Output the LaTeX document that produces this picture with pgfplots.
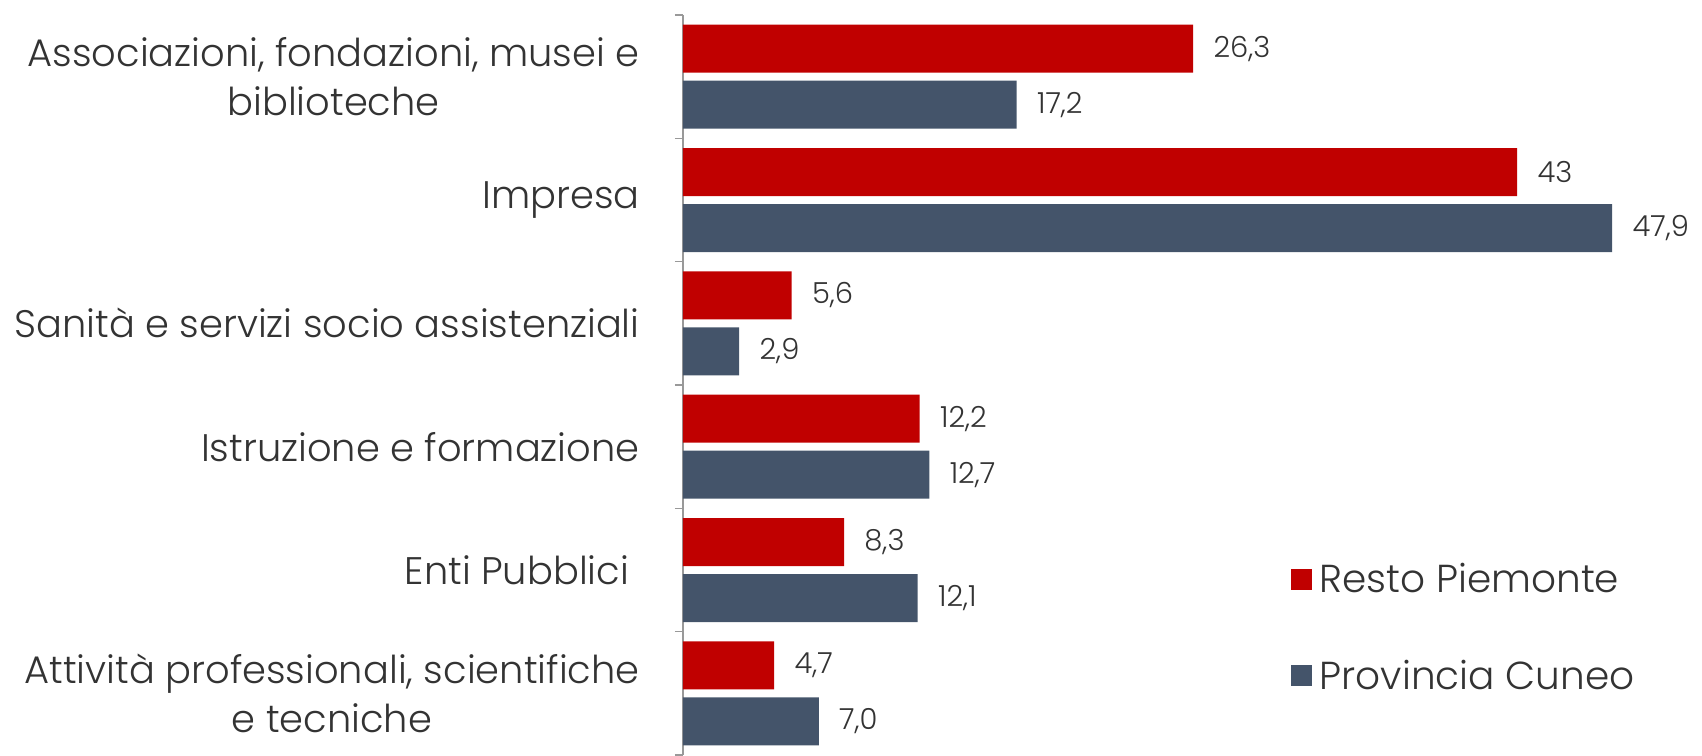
\documentclass[border=0pt]{standalone}
\usepackage{pgfplots}
\usepackage{pgfplotstable}
\pgfplotsset{compat=1.18}
\usepackage{fontspec}
\setmainfont{Poppins Light}
\definecolor{rossoP}{HTML}{C00000}
\definecolor{bluC}{HTML}{44546A}
\definecolor{testo}{HTML}{333333}

% y: 5 = top category
\pgfplotstableread{
y rp rplab pc pclab
5 26.3 26,3 17.2 17,2
4 43   43   47.9 47,9
3 5.6  5,6  2.9  2,9
2 12.2 12,2 12.7 12,7
1 8.3  8,3  12.1 12,1
0 4.7  4,7  7.0  7,0
}\dati

\begin{document}
\begin{tikzpicture}
\useasboundingbox (-341.5pt,0pt) rectangle (509.5pt,377.5pt);
\begin{axis}[
    scale only axis,
    width=509.5pt, height=370pt,
    xmin=0, xmax=52.53,
    ymin=-0.5, ymax=5.5,
    hide x axis,
    axis y line*=left,
    axis line style={draw=black!40, line width=0.8pt},
    clip=false,
    xbar, bar width=24pt,
    ytick={0,...,5},
    yticklabels={
        {Attività professionali, scientifiche\\e tecniche},
        {Enti Pubblici\ },
        {Istruzione e formazione},
        {Sanità e servizi socio assistenziali},
        {Impresa},
        {Associazioni, fondazioni, musei e\\biblioteche}},
    minor ytick={-0.5,0.5,...,5.5},
    major tick length=0pt,
    minor tick length=4pt,
    tick align=outside,
    minor tick style={draw=black!40, line width=0.8pt},
    yticklabel style={align=center, inner sep=0pt, xshift=-21.5pt,
        font=\fontsize{19.2}{24.5}\selectfont, text=testo},
    nodes near coords,
    point meta=explicit symbolic,
    nodes near coords style={anchor=west, xshift=10pt, inner sep=0pt,
        font=\fontsize{14.5}{17}\selectfont, text=testo},
    legend style={at={(0.596,0.172)}, anchor=west, draw=none, fill=none,
        inner sep=0pt, row sep=28pt,
        font=\fontsize{19.5}{22}\selectfont, text=testo,
        nodes={inner sep=2pt}},
    legend cell align=left,
    legend image code/.code={\fill[#1] (0pt,-5.25pt) rectangle (10.5pt,5.25pt);},
]
\addplot[fill=rossoP, draw=none, bar shift=14pt] table[x=rp, y=y, meta=rplab] {\dati};
\addplot[fill=bluC, draw=none, bar shift=-14pt] table[x=pc, y=y, meta=pclab] {\dati};
\legend{\hspace{2pt}Resto Piemonte, \hspace{2pt}Provincia Cuneo}
\end{axis}
\end{tikzpicture}
\end{document}
